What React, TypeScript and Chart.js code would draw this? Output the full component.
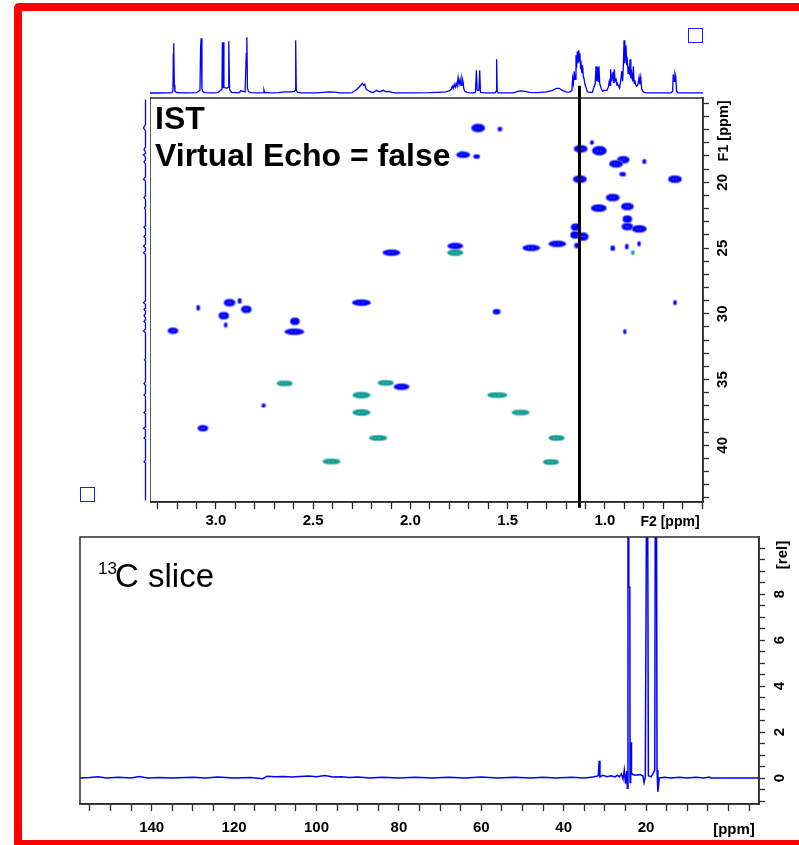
import React, { useEffect, useRef } from 'react';
import { Chart, registerables } from 'chart.js';

Chart.register(...registerables);

const FONT = '"Liberation Sans", Arial, Helvetica, sans-serif';

// ---------------- axis ranges ----------------
const F2_RANGE = [0.496, 3.339]; // 1H (ppm), reversed
const F1_RANGE = [13.59, 44.31]; // 13C (ppm), reversed (down)
const C13_RANGE = [-7.4, 157.4]; // slice x (ppm), reversed
const REL_RANGE = [-1.13, 10.48]; // slice intensity
const PROJ_RANGE = [-2.7, 65.3];
const F1PROJ_RANGE = [-4.5, 9.5];

// ---------------- tick labels ----------------
const f2TickLabels = [3.0, 2.5, 2.0, 1.5, 1.0];
const f1TickLabels = [20, 25, 30, 35, 40];
const c13TickLabels = [140, 120, 100, 80, 60, 40, 20];
const relTickLabels = [0, 2, 4, 6, 8];

// ---------------- 2D cross peaks: positive (blue) ----------------
const posF2 = [1.652, 1.540, 1.729, 1.660, 1.125, 1.029, 1.067, 0.906, 0.943, 0.798, 0.909, 1.129, 0.640, 0.960, 1.032, 0.885, 0.885, 0.885, 0.824, 1.151, 1.154, 1.112, 1.146, 1.245, 1.379, 1.770, 0.960, 0.888, 0.825, 0.640, 2.098, 2.930, 2.878, 3.091, 2.844, 2.960, 2.950, 3.221, 2.594, 2.597, 2.252, 2.046, 2.755, 3.067, 1.557, 0.898];
const posF1 = [15.87, 15.95, 17.91, 18.04, 17.45, 17.60, 16.97, 18.29, 18.59, 18.42, 19.38, 19.76, 19.76, 21.16, 21.96, 21.84, 22.80, 23.37, 23.54, 23.41, 24.00, 24.13, 24.81, 24.68, 24.99, 24.84, 25.01, 24.89, 24.68, 29.15, 25.35, 29.15, 29.02, 29.54, 29.66, 30.14, 30.85, 31.29, 30.57, 31.36, 29.15, 35.55, 36.97, 38.70, 29.84, 31.36];
const posW2 = [0.062, 0.015, 0.062, 0.025, 0.062, 0.067, 0.012, 0.055, 0.062, 0.012, 0.025, 0.062, 0.062, 0.062, 0.072, 0.057, 0.041, 0.051, 0.067, 0.041, 0.041, 0.046, 0.015, 0.082, 0.082, 0.072, 0.015, 0.010, 0.010, 0.010, 0.082, 0.051, 0.012, 0.010, 0.046, 0.046, 0.010, 0.046, 0.041, 0.093, 0.088, 0.072, 0.012, 0.046, 0.031, 0.008];
const posW1 = [0.53, 0.23, 0.38, 0.23, 0.46, 0.60, 0.20, 0.46, 0.46, 0.25, 0.23, 0.46, 0.46, 0.46, 0.46, 0.46, 0.46, 0.46, 0.46, 0.46, 0.46, 0.53, 0.30, 0.38, 0.38, 0.38, 0.30, 0.30, 0.25, 0.25, 0.38, 0.46, 0.30, 0.30, 0.46, 0.46, 0.25, 0.38, 0.46, 0.38, 0.38, 0.38, 0.20, 0.38, 0.30, 0.25];

// ---------------- 2D cross peaks: negative (teal) ----------------
const negF2 = [1.770, 0.857, 2.647, 2.127, 2.252, 2.252, 2.166, 2.406, 1.554, 1.434, 1.249, 1.278, 1.735];
const negF1 = [25.35, 25.35, 35.29, 35.25, 36.18, 37.50, 39.44, 41.23, 36.18, 37.50, 39.44, 41.27, 17.75];
const negW2 = [0.072, 0.008, 0.072, 0.072, 0.082, 0.082, 0.082, 0.082, 0.093, 0.082, 0.072, 0.072, 0.010];
const negW1 = [0.38, 0.20, 0.30, 0.30, 0.38, 0.38, 0.30, 0.30, 0.30, 0.30, 0.30, 0.30, 0.15];

// ---------------- slice cursor ----------------
const cursorF2 = 1.131;
const cursorF1 = [12.65, 44.75];

// ---------------- 1H projection [ppm, intensity] ----------------
const protonProjection: [number, number][] = [
  [3.339, 0.3], [3.30, 0.3], [3.26, 0.5], [3.24, 0.4], [3.226, 0.6], [3.221, 3], [3.219, 39], [3.217, 50], [3.214, 8], [3.211, 2], [3.20, 0.6], [3.15, 0.4],
  [3.10, 0.6], [3.09, 2], [3.082, 3], [3.079, 45], [3.076, 55], [3.072, 5], [3.068, 2], [3.06, 0.6], [3.02, 0.4],
  [2.99, 0.6], [2.975, 3], [2.969, 4], [2.967, 51], [2.964, 5], [2.962, 51], [2.959, 6], [2.945, 5], [2.937, 6], [2.935, 37], [2.933, 52], [2.930, 4], [2.92, 1], [2.905, 0.6],
  [2.88, 0.6], [2.872, 2.5], [2.86, 2], [2.85, 1.5], [2.844, 40], [2.841, 56], [2.838, 5], [2.832, 1.5], [2.82, 0.6],
  [2.78, 0.5], [2.756, 0.6], [2.753, 3], [2.750, 0.6], [2.74, 1], [2.725, 0.5],
  [2.68, 0.6], [2.66, 1.2], [2.64, 1.5], [2.61, 1.5], [2.596, 2], [2.593, 3], [2.590, 53], [2.587, 3], [2.58, 1], [2.56, 0.5],
  [2.50, 0.4], [2.48, 0.5], [2.45, 1], [2.42, 1.5], [2.39, 1.2], [2.36, 0.5], [2.32, 0.4],
  [2.30, 0.6], [2.29, 2], [2.275, 4], [2.265, 6], [2.255, 8], [2.248, 10], [2.240, 8], [2.235, 9], [2.228, 4], [2.22, 3], [2.21, 2], [2.20, 1],
  [2.19, 1], [2.175, 3], [2.16, 1.5], [2.14, 3], [2.125, 1.5], [2.11, 2], [2.095, 1], [2.08, 0.5],
  [2.0, 0.4], [1.90, 0.6], [1.86, 1], [1.82, 1.5], [1.80, 2.5], [1.79, 4], [1.785, 7], [1.78, 5], [1.775, 9], [1.77, 6], [1.765, 10], [1.76, 7], [1.755, 16], [1.75, 9], [1.745, 14], [1.74, 8], [1.735, 16], [1.73, 12], [1.725, 4], [1.72, 2], [1.71, 1], [1.70, 0.6], [1.68, 0.5],
  [1.666, 0.8], [1.661, 23], [1.657, 3], [1.648, 3], [1.644, 23], [1.640, 1], [1.62, 0.5],
  [1.565, 0.5], [1.560, 2], [1.557, 34], [1.554, 2], [1.548, 0.5],
  [1.47, 0.5], [1.45, 2], [1.43, 2.5], [1.41, 2], [1.39, 1], [1.35, 0.6], [1.33, 1], [1.30, 1.5], [1.27, 3], [1.25, 5], [1.235, 5], [1.22, 3], [1.20, 1.5], [1.19, 1.2], [1.18, 1.5],
  [1.17, 3], [1.166, 15], [1.162, 10], [1.158, 22], [1.154, 14], [1.149, 38], [1.146, 25], [1.142, 42], [1.139, 30], [1.135, 43], [1.132, 32], [1.129, 40], [1.125, 24], [1.122, 28], [1.119, 20], [1.115, 28], [1.111, 16], [1.108, 15], [1.103, 9], [1.099, 7], [1.091, 1.5], [1.08, 1],
  [1.065, 1], [1.058, 5], [1.050, 10], [1.046, 27], [1.042, 12], [1.038, 26], [1.034, 12], [1.031, 27], [1.027, 10], [1.020, 5], [1.012, 2], [1.005, 3],
  [0.99, 3], [0.983, 6], [0.978, 12], [0.974, 8], [0.971, 24], [0.967, 12], [0.963, 18], [0.960, 21], [0.956, 10], [0.952, 24], [0.948, 12], [0.943, 14], [0.938, 8], [0.934, 9],
  [0.925, 5], [0.918, 14], [0.914, 22], [0.909, 12], [0.905, 30], [0.902, 53], [0.898, 30], [0.895, 40], [0.892, 48], [0.888, 28], [0.885, 32], [0.881, 20], [0.878, 27], [0.874, 18], [0.871, 34], [0.867, 15], [0.863, 20], [0.858, 12], [0.854, 27], [0.850, 10], [0.846, 13], [0.841, 8], [0.837, 7], [0.832, 8], [0.828, 12], [0.825, 16], [0.821, 9], [0.816, 16], [0.812, 6], [0.809, 3], [0.80, 1], [0.78, 0.5], [0.70, 0.4],
  [0.66, 0.5], [0.652, 2], [0.649, 19], [0.645, 12], [0.640, 20], [0.636, 17], [0.632, 2], [0.625, 0.5], [0.496, 0.5],
];

// ---------------- 13C (F1) projection [ppm, intensity] ----------------
const carbonProjection: [number, number][] = [
  [13.7, 0], [15.6, 0], [15.87, 2], [16.1, 0], [17.3, 0], [17.5, 1.5], [17.7, 0], [17.8, 0], [17.91, 2], [18.1, 0], [18.3, 0], [18.45, 1.5], [18.6, 0],
  [19.6, 0], [19.76, 2], [19.9, 0], [21.0, 0], [21.16, 1.5], [21.3, 0], [21.85, 0], [21.96, 1], [22.1, 0], [23.3, 0], [23.4, 1.5], [23.55, 0],
  [24.0, 0], [24.12, 1.5], [24.25, 0], [24.7, 0], [24.84, 2], [25.0, 0], [25.2, 0], [25.35, 2], [25.5, 0], [29.0, 0], [29.15, 2], [29.3, 0],
  [29.55, 0], [29.66, 1.5], [29.8, 0], [30.0, 0], [30.14, 1.5], [30.3, 0], [30.45, 0], [30.57, 1.5], [30.7, 0], [31.15, 0], [31.3, 2], [31.45, 0],
  [33.4, 0], [33.5, 1], [33.6, 0], [35.15, 0], [35.3, 1.5], [35.45, 0], [36.05, 0], [36.18, 1.5], [36.3, 0], [37.4, 0], [37.5, 1.5], [37.6, 0],
  [38.6, 0], [38.7, 2], [38.8, 0], [39.35, 0], [39.44, 1.5], [39.55, 0], [41.15, 0], [41.25, 1.5], [41.35, 0], [44.2, 0],
];

// ---------------- 13C slice [ppm, rel] ----------------
const carbonSlice: [number, number][] = [
  [157.4, 0.0], [155, 0.02], [153, 0.05], [151, 0.0], [148, 0.03], [145, 0.0], [143, 0.06], [141, 0.0], [138, 0.02], [135, 0.0], [130, 0.03], [127, 0.0],
  [124, 0.04], [120, 0.0], [116, 0.02], [113, -0.03], [112, 0.08], [110, 0.05], [108, 0.07], [106, 0.04], [104, 0.07], [102, 0.09], [100, 0.05], [98, 0.11],
  [96, 0.04], [94, 0.06], [92, 0.02], [90, 0.04], [87, 0.0], [84, 0.03], [80, 0.0], [76, 0.03], [72, 0.0], [68, 0.03], [64, 0.0], [60, 0.04], [56, 0.0],
  [52, 0.03], [48, 0.0], [45, 0.03], [42, 0.0], [38, 0.03], [35, 0.0], [33, 0.04], [32, 0.08], [31.6, 0.1], [31.4, 0.75], [31.2, 0.05], [30.5, 0.12],
  [29.5, 0.06], [28.5, 0.1], [27.5, 0.05], [27, 0.12], [26.5, 0.05], [26.0, 0.18], [25.6, -0.05], [25.3, 0.35], [25.0, -0.25], [24.7, 0.3], [24.55, -0.45],
  [24.4, 14], [24.3, 14], [24.2, 8.3], [23.95, 8.3], [23.9, -0.2], [23.75, 0.3], [23.65, 1.55], [23.55, 0.2], [23.2, 0.15], [22.5, 0.12], [21.5, 0.15],
  [20.8, 0.1], [20.5, -0.2], [20.2, 0.05], [19.85, 14], [19.65, 14], [19.45, 0.1], [18.8, 0.05], [18.3, 0.2], [17.9, 0.35], [17.75, 14], [17.5, 14],
  [17.35, 0.35], [17.15, -0.6], [16.8, 0.0], [15.5, 0.03], [14, 0.0], [12, 0.03], [10, 0.0], [8, 0.03], [6, 0.0], [4.6, 0.04], [4.4, 0.0], [2, 0.0], [-7.4, 0.0],
];

// ---------------- styling ----------------
const BLUE = '#0000ff';
const BLUE_EDGE = 'rgba(120,120,255,0.85)';
const TEAL = '#109c94';
const TEAL_EDGE = 'rgba(100,190,185,0.85)';
const LINE_BLUE = '#0000ff';
const AXIS = '#2a2a2a';

const blobCache = new Map<string, HTMLCanvasElement>();
function blob(w: number, h: number, fill: string, edge: string): HTMLCanvasElement {
  const key = `${w.toFixed(1)}_${h.toFixed(1)}_${fill}`;
  const hit = blobCache.get(key);
  if (hit) return hit;
  const rx = Math.max(w / 2 + 0.8, 1.1);
  const ry = Math.max(h / 2 + 0.8, 1.1);
  const W = Math.ceil(rx * 2) + 4;
  const H = Math.ceil(ry * 2) + 4;
  const c = document.createElement('canvas');
  c.width = W;
  c.height = H;
  const g = c.getContext('2d')!;
  g.beginPath();
  g.ellipse(W / 2, H / 2, rx, ry, 0, 0, Math.PI * 2);
  g.fillStyle = fill;
  g.fill();
  g.lineWidth = 1.1;
  g.strokeStyle = edge;
  g.stroke();
  if (w > 8 && h > 3.5) {
    g.fillStyle = 'rgba(255,255,255,0.55)';
    g.fillRect(W / 2 - w * 0.18, H / 2 - 0.5, 1, 1);
    g.fillRect(W / 2 + w * 0.05, H / 2 - 0.5, 1, 1);
  }
  blobCache.set(key, c);
  return c;
}

function blobStyle(f2: number[], f1: number[], w2: number[], w1: number[], fill: string, edge: string) {
  return (ctx: any) => {
    const i = ctx.dataIndex;
    const xs = ctx.chart.scales.x;
    const ys = ctx.chart.scales.y;
    if (i === undefined || !xs || !ys) return 'circle';
    const w = Math.abs(xs.getPixelForValue(f2[i] + w2[i] / 2) - xs.getPixelForValue(f2[i] - w2[i] / 2));
    const h = Math.abs(ys.getPixelForValue(f1[i] + w1[i] / 2) - ys.getPixelForValue(f1[i] - w1[i] / 2));
    return blob(w, h, fill, edge);
  };
}

const framePlugin = (color: string, width: number) => ({
  id: 'frame',
  afterDatasetsDraw(chart: any) {
    const { ctx, chartArea: a } = chart;
    ctx.save();
    ctx.strokeStyle = color;
    ctx.lineWidth = width;
    ctx.strokeRect(a.left, a.top, a.right - a.left, a.bottom - a.top);
    ctx.restore();
  },
});

const rotatedLabels = (scaleId: string, values: number[], dx: number, size: number) => ({
  id: 'rotLabels',
  afterDraw(chart: any) {
    const s = chart.scales[scaleId];
    const ctx = chart.ctx;
    for (const v of values) {
      const y = s.getPixelForValue(v);
      ctx.save();
      ctx.font = `bold ${size}px ${FONT}`;
      ctx.fillStyle = '#000';
      ctx.textAlign = 'center';
      ctx.textBaseline = 'middle';
      ctx.translate(s.left + dx, y);
      ctx.rotate(-Math.PI / 2);
      ctx.fillText(String(v), 0, 0);
      ctx.restore();
    }
  },
});

const baseOptions = {
  animation: false,
  responsive: false,
  events: [] as string[],
  plugins: { legend: { display: false }, tooltip: { enabled: false } },
};

const isLabel = (list: number[], v: number) => list.some((t) => Math.abs(t - v) < 1e-6);

// ---------------- chart configs ----------------
const protonConfig = () => ({
  type: 'scatter',
  data: {
    datasets: [{
      data: protonProjection.map(([x, y]) => ({ x, y })),
      showLine: true, borderColor: LINE_BLUE, borderWidth: 1.3, pointRadius: 0, pointHoverRadius: 0,
    }],
  },
  options: {
    ...baseOptions,
    layout: { padding: 0, autoPadding: false },
    scales: {
      x: { type: 'linear', display: false, reverse: true, min: F2_RANGE[0], max: F2_RANGE[1] },
      y: { type: 'linear', display: false, min: PROJ_RANGE[0], max: PROJ_RANGE[1] },
    },
  },
});

const f1ProjConfig = () => ({
  type: 'scatter',
  data: {
    datasets: [{
      data: carbonProjection.map(([y, x]) => ({ x, y })),
      showLine: true, borderColor: LINE_BLUE, borderWidth: 1.3, pointRadius: 0, pointHoverRadius: 0,
    }],
  },
  options: {
    ...baseOptions,
    layout: { padding: 0, autoPadding: false },
    scales: {
      x: { type: 'linear', display: false, reverse: true, min: F1PROJ_RANGE[0], max: F1PROJ_RANGE[1] },
      y: { type: 'linear', display: false, reverse: true, min: F1_RANGE[0], max: F1_RANGE[1] },
    },
  },
});

const contourConfig = () => ({
  type: 'scatter',
  data: {
    datasets: [
      {
        type: 'line',
        data: cursorF1.map((y) => ({ x: cursorF2, y })),
        borderColor: '#000', borderWidth: 3, pointRadius: 0, pointHoverRadius: 0, clip: false,
      },
      {
        data: posF2.map((x, i) => ({ x, y: posF1[i] })),
        pointStyle: blobStyle(posF2, posF1, posW2, posW1, BLUE, BLUE_EDGE),
        pointRadius: 3, pointHoverRadius: 0,
      },
      {
        data: negF2.map((x, i) => ({ x, y: negF1[i] })),
        pointStyle: blobStyle(negF2, negF1, negW2, negW1, TEAL, TEAL_EDGE),
        pointRadius: 3, pointHoverRadius: 0,
      },
    ],
  },
  options: {
    ...baseOptions,
    layout: { padding: { top: 18, left: 0, right: 0, bottom: 0 }, autoPadding: false },
    scales: {
      x: {
        type: 'linear', position: 'bottom', reverse: true, min: F2_RANGE[0], max: F2_RANGE[1],
        border: { display: true, color: AXIS, width: 1.5 },
        grid: { display: true, drawOnChartArea: false, drawTicks: true, tickLength: 7, tickColor: AXIS, tickWidth: 1.3 },
        ticks: {
          stepSize: 0.1, autoSkip: false, includeBounds: false, maxRotation: 0, minRotation: 0, padding: 3,
          color: '#000', font: { family: FONT, size: 15, weight: 'bold' },
          callback: (v: number) => (isLabel(f2TickLabels, v) ? Number(v).toFixed(1) : ''),
        },
        afterFit: (s: any) => { s.height = 38; },
      },
      y: {
        type: 'linear', position: 'right', reverse: true, min: F1_RANGE[0], max: F1_RANGE[1],
        border: { display: true, color: AXIS, width: 1.5 },
        grid: { display: true, drawOnChartArea: false, drawTicks: true, tickLength: 6, tickColor: AXIS, tickWidth: 1.3 },
        ticks: { stepSize: 1, autoSkip: false, includeBounds: false, display: false },
        afterFit: (s: any) => { s.width = 96; },
      },
    },
  },
  plugins: [framePlugin(AXIS, 1.5), rotatedLabels('y', f1TickLabels, 20, 15)],
});

const sliceConfig = () => ({
  type: 'scatter',
  data: {
    datasets: [{
      data: carbonSlice.map(([x, y]) => ({ x, y })),
      showLine: true, borderColor: LINE_BLUE, borderWidth: 1.5, pointRadius: 0, pointHoverRadius: 0,
    }],
  },
  options: {
    ...baseOptions,
    layout: { padding: { top: 17, left: 20, right: 0, bottom: 0 }, autoPadding: false },
    scales: {
      x: {
        type: 'linear', position: 'bottom', reverse: true, min: C13_RANGE[0], max: C13_RANGE[1],
        border: { display: true, color: AXIS, width: 1.5 },
        grid: { display: true, drawOnChartArea: false, drawTicks: true, tickLength: 7, tickColor: AXIS, tickWidth: 1.3 },
        ticks: {
          stepSize: 5, autoSkip: false, includeBounds: false, maxRotation: 0, minRotation: 0, padding: 8,
          color: '#000', font: { family: FONT, size: 15, weight: 'bold' },
          callback: (v: number) => (isLabel(c13TickLabels, v) ? String(Math.round(v)) : ''),
        },
        afterFit: (s: any) => { s.height = 41; },
      },
      y: {
        type: 'linear', position: 'right', min: REL_RANGE[0], max: REL_RANGE[1],
        border: { display: true, color: AXIS, width: 1.5 },
        grid: { display: true, drawOnChartArea: false, drawTicks: true, tickLength: 6, tickColor: AXIS, tickWidth: 1.3 },
        ticks: { stepSize: 0.5, autoSkip: false, includeBounds: false, display: false },
        afterFit: (s: any) => { s.width = 40; },
      },
    },
  },
  plugins: [framePlugin(AXIS, 1.5), rotatedLabels('y', relTickLabels, 21, 15)],
});

// ---------------- components ----------------
function ChartCanvas({ left, top, width, height, config }: { left: number; top: number; width: number; height: number; config: () => any }) {
  const ref = useRef<HTMLCanvasElement>(null);
  useEffect(() => {
    const chart = new Chart(ref.current as HTMLCanvasElement, config());
    return () => chart.destroy();
  }, []);
  return (
    <canvas
      ref={ref}
      width={width}
      height={height}
      style={{ position: 'absolute', left, top, width, height, display: 'block' }}
    />
  );
}

function Label({ x, baseline, size, bold, children }: { x: number; baseline: number; size: number; bold?: boolean; children: React.ReactNode }) {
  return (
    <div
      style={{
        position: 'absolute', left: x, top: baseline - 0.8465 * size, fontFamily: FONT, fontSize: size,
        fontWeight: bold ? 'bold' : 'normal', lineHeight: 1, whiteSpace: 'nowrap', color: '#000',
      }}
    >
      {children}
    </div>
  );
}

function CenterLabel({ cx, cy, size, rotate, children }: { cx: number; cy: number; size: number; rotate?: boolean; children: React.ReactNode }) {
  return (
    <div
      style={{
        position: 'absolute', left: cx, top: cy, transform: `translate(-50%, -50%)${rotate ? ' rotate(-90deg)' : ''}`,
        fontFamily: FONT, fontSize: size, fontWeight: 'bold', lineHeight: 1, whiteSpace: 'nowrap', color: '#000',
      }}
    >
      {children}
    </div>
  );
}

function Square({ x, y }: { x: number; y: number }) {
  return <div style={{ position: 'absolute', left: x, top: y, width: 15, height: 15, boxSizing: 'border-box', border: '1.5px solid #1a1aff' }} />;
}

export default function App() {
  return (
    <div style={{ position: 'absolute', left: 0, top: 0, width: 799, height: 845, overflow: 'hidden', background: '#fff' }}>
      <div
        style={{
          position: 'absolute', left: 14, top: 3, width: 793, height: 845, boxSizing: 'border-box',
          border: '8px solid #ff0000', borderRadius: 5,
        }}
      />
      <ChartCanvas left={150} top={28} width={553} height={68} config={protonConfig} />
      <ChartCanvas left={136} top={98} width={14} height={404} config={f1ProjConfig} />
      <ChartCanvas left={150} top={80} width={649} height={460} config={contourConfig} />
      <ChartCanvas left={60} top={520} width={739} height={325} config={sliceConfig} />

      <Label x={155} baseline={129.5} size={32} bold>IST</Label>
      <Label x={155} baseline={166} size={32} bold>Virtual Echo = false</Label>
      <CenterLabel cx={670} cy={521} size={14}>F2 [ppm]</CenterLabel>
      <CenterLabel cx={723} cy={131} size={14.5} rotate>F1 [ppm]</CenterLabel>
      <CenterLabel cx={734} cy={828} size={15}>[ppm]</CenterLabel>
      <CenterLabel cx={781} cy={555} size={15} rotate>[rel]</CenterLabel>

      <Label x={98} baseline={574} size={17}>13</Label>
      <Label x={115} baseline={587} size={33}>C slice</Label>

      <Square x={688} y={28} />
      <Square x={80} y={487} />
    </div>
  );
}
